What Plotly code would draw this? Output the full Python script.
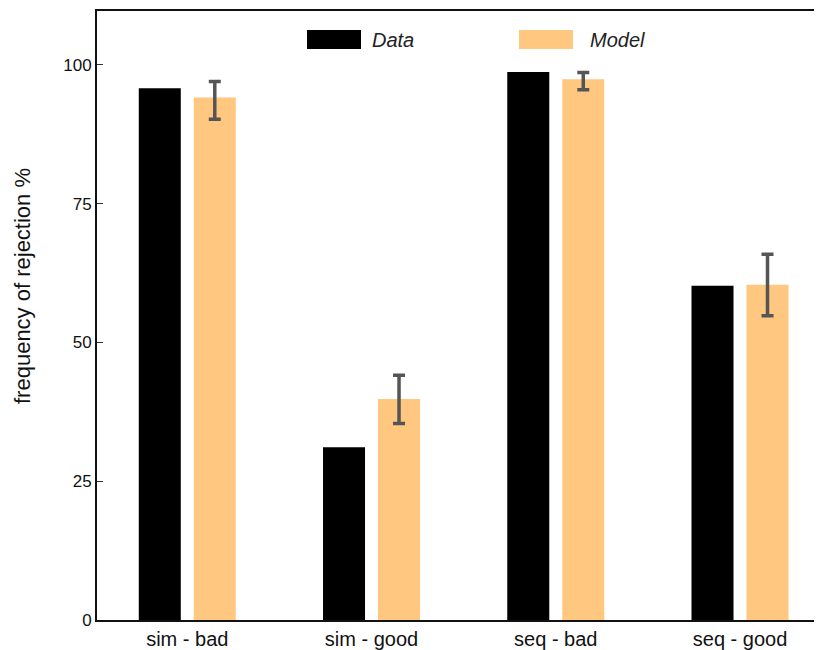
import plotly.graph_objects as go

categories = ["sim - bad", "sim - good", "seq - bad", "seq - good"]
data_values = [95.8, 31.1, 98.7, 60.2]
model_values = [94.1, 39.8, 97.4, 60.4]
model_err_upper = [97.0, 44.1, 98.6, 65.9]
model_err_lower = [90.2, 35.4, 95.5, 54.8]
y_ticks = [0, 25, 50, 75, 100]

err_plus = [u - m for u, m in zip(model_err_upper, model_values)]
err_minus = [m - l for l, m in zip(model_err_lower, model_values)]

FONT = "Liberation Sans, Arial, Helvetica, sans-serif"
MODEL_COLOR = "#FFC77F"

x_idx = list(range(len(categories)))

fig = go.Figure()
fig.add_trace(go.Bar(
    x=x_idx, y=data_values, name="Data",
    marker=dict(color="black", line=dict(width=0)),
))
fig.add_trace(go.Bar(
    x=x_idx, y=model_values, name="Model",
    marker=dict(color=MODEL_COLOR, line=dict(width=0)),
    error_y=dict(type="data", symmetric=False, array=err_plus, arrayminus=err_minus,
                 color="#555555", thickness=3.5, width=6),
))

# page body has an 8px margin; compensate
fig.update_layout(
    width=814, height=642,
    margin=dict(l=89, r=0, t=3, b=30),
    paper_bgcolor="white", plot_bgcolor="white",
    barmode="group", bargap=0.403, bargroupgap=0.236,
    showlegend=False,
    font=dict(family=FONT, color="#111111"),
    xaxis=dict(
        tickmode="array", tickvals=x_idx, ticktext=categories,
        range=[-0.49, 3.445], showgrid=False, zeroline=False,
        showline=True, linecolor="#111111", linewidth=1.5, mirror=True,
        ticks="", tickfont=dict(size=20, family=FONT, color="#111111"),
    ),
    yaxis=dict(
        range=[0, 109.7], tickmode="array", tickvals=y_ticks,
        showgrid=False, zeroline=False,
        showline=True, linecolor="#111111", linewidth=2,
        ticks="inside", ticklen=6, tickwidth=1.2, tickcolor="#333333",
        tickfont=dict(size=17, family=FONT, color="#111111"),
    ),
)

plot_w = 725
plot_h = 609


def px_x(px):
    return (px - 97) / plot_w


def px_y(py):
    return (620 - py) / plot_h


# y-axis title (placed as annotation to match its vertical position)
fig.add_annotation(xref="paper", yref="paper", x=px_x(22), y=px_y(286),
                   text="frequency of rejection %", textangle=-90, showarrow=False,
                   xanchor="center", yanchor="middle",
                   font=dict(size=22, family=FONT, color="#111111"))

# legend drawn as swatches + italic labels
legend_items = [("Data", "black", 307, 370), ("Model", MODEL_COLOR, 519, 588)]
for label, color, sx, tx in legend_items:
    fig.add_shape(type="rect", xref="paper", yref="paper",
                  x0=px_x(sx), x1=px_x(sx + 54), y0=px_y(49), y1=px_y(30),
                  fillcolor=color, line=dict(width=0))
    fig.add_annotation(xref="paper", yref="paper", x=px_x(tx), y=px_y(40),
                       text="<i>" + label + "</i>", showarrow=False, xanchor="left", yanchor="middle",
                       font=dict(size=20, family=FONT, color="#222222"))

fig.write_html("out.html")
